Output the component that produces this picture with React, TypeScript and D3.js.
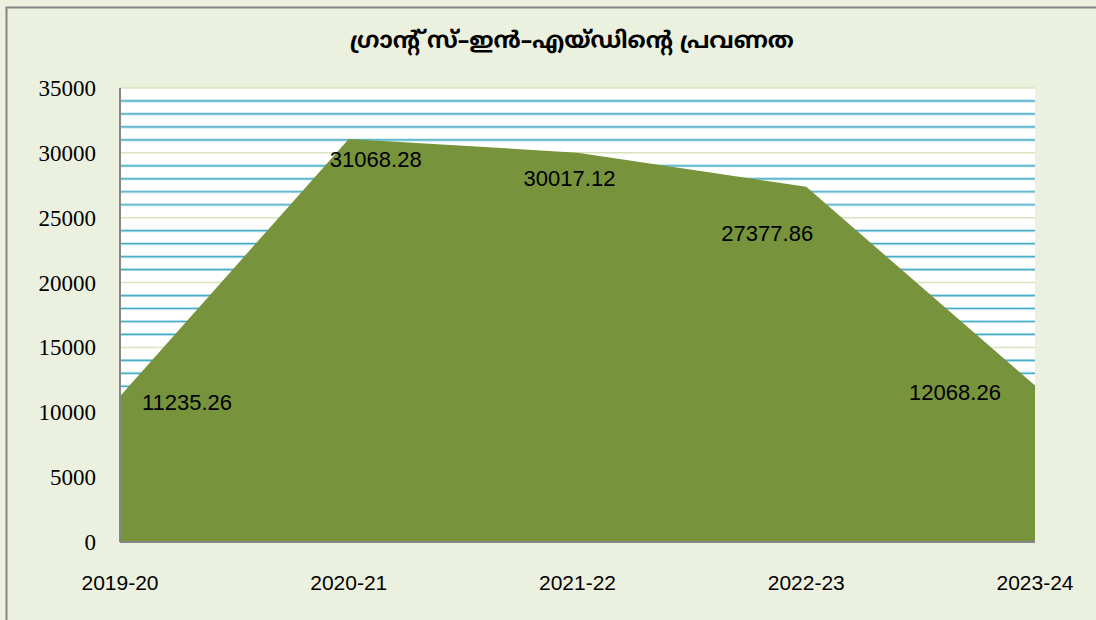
import React from 'react';
import * as d3 from 'd3';

const W = 1096;
const H = 620;

const title = 'ഗ്രാന്റ് സ്–ഇൻ–എയ്ഡിന്റെ പ്രവണത';
const years = ['2019-20', '2020-21', '2021-22', '2022-23', '2023-24'];
const grants = [11235.26, 31068.28, 30017.12, 27377.86, 12068.26];
const yTicks = [0, 5000, 10000, 15000, 20000, 25000, 30000, 35000];
// where Excel dropped each data label, relative to its point
const labelDx = [67, 27, -8, -39, -80];
const labelDy = [6, 20, 26, 46, 7];

const bg = '#ebf0df';
const fill = '#77933c';
const majorGrid = '#d7e4bd';
const minorGrid = '#4bacc6';
const axisGray = '#868686';

export default function App() {
  const margin = { top: 88, right: 61, bottom: 78, left: 120 };
  const plotW = W - margin.left - margin.right;
  const plotH = H - margin.top - margin.bottom;

  const x = d3.scalePoint<string>().domain(years).range([0, plotW]);
  const y = d3.scaleLinear().domain([0, 35000]).range([plotH, 0]);

  const minorTicks = d3.range(0, 35001, 1000).filter((v) => v % 5000 !== 0);

  const area = d3
    .area<number>()
    .x((_, i) => x(years[i]) as number)
    .y0(plotH)
    .y1((d) => y(d));

  return (
    <div style={{ position: 'absolute', left: 0, top: 0 }}>
      <svg width={W} height={H}>
        <rect x={0} y={0} width={W} height={H} fill={bg} />
        <rect x={6.5} y={7.5} width={W + 10} height={H + 10} fill="none" stroke={axisGray} strokeWidth={2} />
        <text
          x={572}
          y={48}
          textAnchor="middle"
          fontFamily="'Noto Sans Malayalam', 'Noto Sans', sans-serif"
          fontWeight="bold"
          fontSize={23}
          fill="#000"
        >
          {title}
        </text>
        <g transform={`translate(${margin.left},${margin.top})`}>
          <rect x={0} y={0} width={plotW} height={plotH} fill="#fff" />
          {minorTicks.map((v) => (
            <g key={'m' + v}>
              <line x1={0} x2={plotW} y1={y(v)} y2={y(v)} stroke="#b4e0ec" strokeWidth={3} />
              <line x1={0} x2={plotW} y1={y(v)} y2={y(v)} stroke={minorGrid} strokeWidth={1.2} />
            </g>
          ))}
          {yTicks.map((v) => (
            <line key={'M' + v} x1={0} x2={plotW} y1={y(v)} y2={y(v)} stroke={majorGrid} strokeWidth={1.5} />
          ))}
          <path d={area(grants) ?? ''} fill={fill} />
          <line x1={0} x2={0} y1={0} y2={plotH} stroke={axisGray} strokeWidth={2} />
          <line x1={0} x2={plotW} y1={plotH} y2={plotH} stroke={axisGray} strokeWidth={2} />
          {yTicks.map((v) => (
            <text
              key={'t' + v}
              x={-24}
              y={y(v)}
              dy="0.35em"
              textAnchor="end"
              style={{ fontFamily: '"Liberation Serif", "DejaVu Serif", serif', fontSize: '23px' }}
              fill="#000"
            >
              {v}
            </text>
          ))}
          {years.map((yr) => (
            <text
              key={yr}
              x={x(yr)}
              y={plotH + 48}
              textAnchor="middle"
              fontFamily="Liberation Sans, sans-serif"
              fontSize={21}
              fill="#000"
            >
              {yr}
            </text>
          ))}
          {grants.map((v, i) => (
            <text
              key={'l' + i}
              x={(x(years[i]) as number) + labelDx[i]}
              y={y(v) + labelDy[i]}
              dy="0.35em"
              textAnchor="middle"
              fontFamily="Liberation Sans, sans-serif"
              fontSize={22}
              fill="#000"
            >
              {v.toFixed(2)}
            </text>
          ))}
        </g>
      </svg>
    </div>
  );
}
